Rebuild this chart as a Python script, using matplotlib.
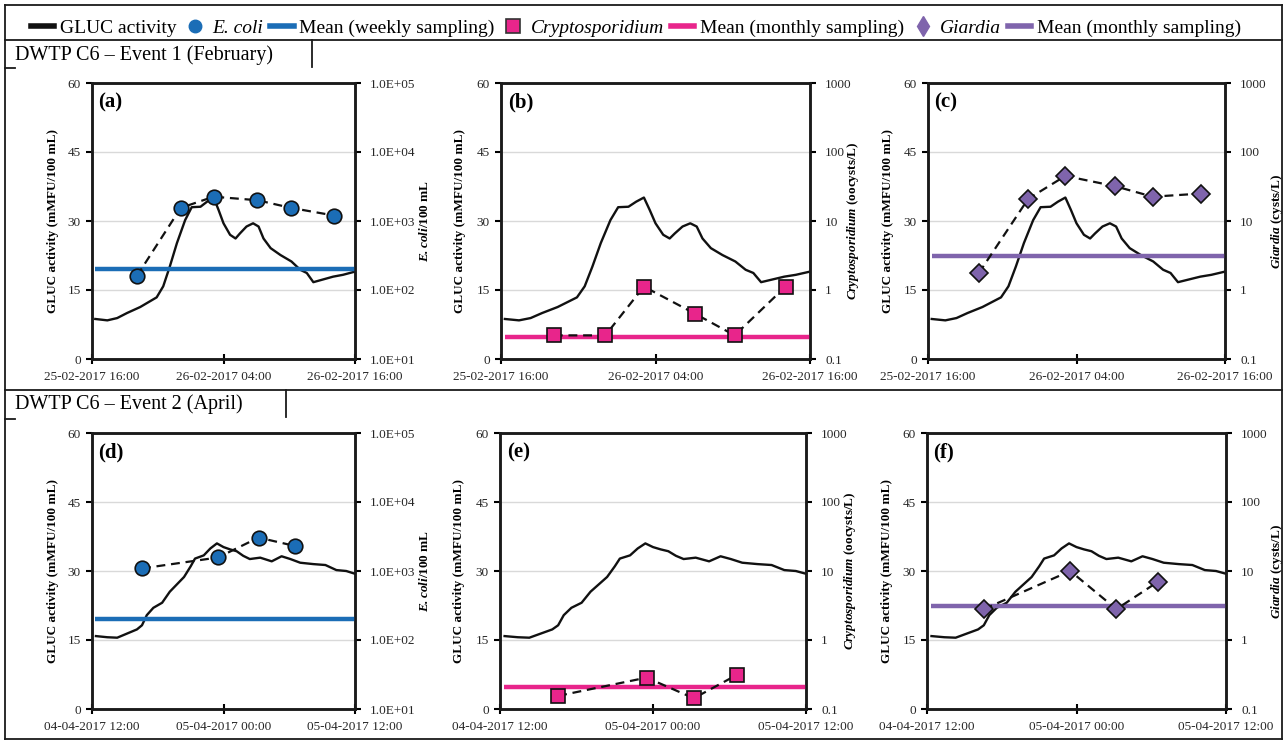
import matplotlib
matplotlib.use('Agg')
import matplotlib.pyplot as plt
from matplotlib.lines import Line2D
from matplotlib.ticker import FixedLocator, NullLocator

plt.rcParams['font.family'] = ['Liberation Serif', 'DejaVu Serif']
plt.rcParams['mathtext.fontset'] = 'custom'
plt.rcParams['mathtext.rm'] = 'Liberation Serif:bold'
plt.rcParams['mathtext.it'] = 'Liberation Serif:italic'
plt.rcParams['mathtext.sf'] = 'Liberation Serif:bold:italic'

# ---------------- data ----------------
ev1_xticklabels = ["25-02-2017 16:00", "26-02-2017 04:00", "26-02-2017 16:00"]
ev2_xticklabels = ["04-04-2017 12:00", "05-04-2017 00:00", "05-04-2017 12:00"]

# GLUC activity (mMFU/100 mL), hours since start of x-axis
ev1_hours = [0.3, 1.4, 2.3, 3.2, 4.4, 5.9, 6.5, 7.1, 7.75, 8.5, 9.1, 9.9, 10.5, 11.1,
             11.55, 12.0, 12.6, 13.1, 13.5, 14.1, 14.7, 15.2, 15.65, 16.3, 17.2, 18.2,
             19.0, 19.6, 20.2, 20.8, 22.0, 22.9, 24.0]
ev1_gluc = [8.7, 8.4, 8.9, 10.0, 11.3, 13.4, 15.8, 20.1, 25.2, 30.2, 33.0, 33.1, 34.2, 35.1,
            32.4, 29.5, 27.0, 26.2, 27.3, 28.8, 29.5, 28.8, 26.2, 24.1, 22.6, 21.2,
            19.4, 18.7, 16.7, 17.1, 17.9, 18.3, 19.0]

ev2_hours = [0.36, 1.4, 2.3, 3.2, 4.1, 4.56, 5.0, 5.6, 6.4, 7.1, 7.75, 8.4, 9.0, 9.4, 10.2,
             10.8, 11.4, 12.0, 12.6, 13.2, 13.8, 14.4, 15.35, 16.4, 17.3, 18.1, 19.0, 20.2,
             21.3, 22.3, 23.2, 24.0]
ev2_gluc = [15.85, 15.6, 15.5, 16.4, 17.3, 18.2, 20.4, 22.0, 23.1, 25.5, 27.1, 28.7, 31.0,
            32.7, 33.4, 34.9, 36.0, 35.2, 34.7, 34.3, 33.3, 32.6, 32.9, 32.1, 33.2, 32.6,
            31.8, 31.5, 31.3, 30.2, 30.0, 29.4]

# grab samples
ev1_sample_hours = [4.1, 8.1, 11.1, 15.1, 18.15, 22.1]
ev1_ecoli = [160, 1550, 2250, 2000, 1550, 1200]          # E. coli /100 mL
ev1_crypto = [0.22, 0.22, 1.12, 0.45, 0.22, 1.12]       # oocysts/L
ev1_giardia = [1.75, 21, 45, 32, 22.5, 25]              # cysts/L

ev2_sample_hours = [4.56, 11.5, 15.2, 18.55]
ev2_ecoli = [1090, 1570, 3050, 2300]
ev2_crypto = [0.155, 0.285, 0.143, 0.31]
ev2_giardia = [2.8, 10, 2.8, 7]

# means of routine sampling
ecoli_mean = 200
crypto_mean = 0.21
giardia_mean = 3.15
mean_span = [0.3, 24]

# ---------------- style ----------------
BLUE = '#1B6DB6'
PINK = '#E8258B'
PURPLE = '#7F64AC'
W, H = 1285, 741

fig = plt.figure(figsize=(W / 100, H / 100), dpi=100)


def fx(x):
    return x / W


def fy(y):
    return 1 - y / H


def add_line(x0, y0, x1, y1, lw=1.3):
    fig.add_artist(Line2D([fx(x0), fx(x1)], [fy(y0), fy(y1)], color='#1a1a1a', lw=lw,
                          transform=fig.transFigure))


# frame and separators
add_line(5, 5, 1282, 5)
add_line(5, 739, 1282, 739)
add_line(5, 5, 5, 739)
add_line(1282, 5, 1282, 739)
add_line(5, 40, 1282, 40)
add_line(5, 390, 1282, 390)
add_line(312, 40, 312, 67)
add_line(5, 68, 15, 68)
add_line(286, 390, 286, 417)
add_line(5, 419, 15, 419)

fig.text(fx(15), fy(55), "DWTP C6 \u2013 Event 1 (February)", fontsize=14.5, va='center', ha='left')
fig.text(fx(15), fy(404), "DWTP C6 \u2013 Event 2 (April)", fontsize=14.5, va='center', ha='left')

kinds = {
    'ecoli': dict(color=BLUE, marker='o', ms=10.5, ylim=(10, 1e5),
                  ticks=[10, 100, 1000, 1e4, 1e5],
                  labels=["1.0E+01", "1.0E+02", "1.0E+03", "1.0E+04", "1.0E+05"],
                  ylabel=r"$\mathsf{E{.}coli}$/100 mL", mean=ecoli_mean),
    'crypto': dict(color=PINK, marker='s', ms=9.8, ylim=(0.1, 1000),
                   ticks=[0.1, 1, 10, 100, 1000], labels=["0.1", "1", "10", "100", "1000"],
                   ylabel=r"$\mathsf{Cryptosporidium}$ (oocysts/L)", mean=crypto_mean),
    'giardia': dict(color=PURPLE, marker='D', ms=9.0, ylim=(0.1, 1000),
                    ticks=[0.1, 1, 10, 100, 1000], labels=["0.1", "1", "10", "100", "1000"],
                    ylabel=r"$\mathsf{Giardia}$ (cysts/L)", mean=giardia_mean),
}


def panel(left, right, top, bottom, hours, gluc, shours, svals, kind, letter, xlabels,
          ylab_off, rlab_off):
    k = kinds[kind]
    ax = fig.add_axes([fx(left), fy(bottom), (right - left) / W, (bottom - top) / H])
    ax.set_xlim(0, 24)
    ax.set_ylim(0, 60)
    ax.set_yticks([0, 15, 30, 45, 60])
    ax.set_xticks([0, 12, 24])
    ax.set_xticklabels(xlabels)
    ax.grid(axis='y', color='#d9d9d9', lw=1.0)
    ax.set_axisbelow(True)
    ax.tick_params(axis='y', direction='out', length=4, width=1.5, labelsize=9.5, pad=4,
                   labelcolor='#262626')
    ax.tick_params(axis='x', direction='inout', length=7, width=1.5, labelsize=9.5, pad=5,
                   labelcolor='#262626')
    for s in ax.spines.values():
        s.set_linewidth(1.8)
        s.set_color('#1a1a1a')
    ax.plot(hours, gluc, color='#111111', lw=1.7, zorder=3)
    ax.text(0.022, 0.93, letter, transform=ax.transAxes, fontsize=15, fontweight='bold',
            ha='left', va='center')
    w = right - left
    ax.text(-ylab_off / w, 0.5, "GLUC activity (mMFU/100 mL)", transform=ax.transAxes,
            rotation=90, ha='center', va='center', fontsize=9.5, fontweight='bold')

    ax2 = ax.twinx()
    ax2.set_yscale('log')
    ax2.set_ylim(*k['ylim'])
    ax2.yaxis.set_major_locator(FixedLocator(k['ticks']))
    ax2.set_yticklabels(k['labels'])
    ax2.yaxis.set_minor_locator(NullLocator())
    ax2.tick_params(axis='y', direction='out', length=4, width=1.5, labelsize=9.5, pad=7,
                    labelcolor='#262626')
    for s in ax2.spines.values():
        s.set_linewidth(1.8)
        s.set_color('#1a1a1a')
    ax2.plot(mean_span, [k['mean'], k['mean']], color=k['color'], lw=3.2, zorder=2,
             solid_capstyle='butt')
    ax2.plot(shours, svals, color='#111111', lw=1.6, linestyle=(0, (4, 2.6)), zorder=3)
    ax2.plot(shours, svals, linestyle='none', marker=k['marker'], ms=k['ms'],
             mfc=k['color'], mec='#111111', mew=1.2, zorder=4)
    ax2.text(1 + rlab_off / w, 0.5, k['ylabel'], transform=ax.transAxes, rotation=90,
             ha='center', va='center', fontsize=9.5, fontweight='bold')
    return ax, ax2


panel(92, 355, 83, 359, ev1_hours, ev1_gluc, ev1_sample_hours, ev1_ecoli, 'ecoli', '(a)',
      ev1_xticklabels, 39, 70)
panel(501, 810, 83, 359, ev1_hours, ev1_gluc, ev1_sample_hours, ev1_crypto, 'crypto', '(b)',
      ev1_xticklabels, 41, 43)
panel(928, 1225, 83, 359, ev1_hours, ev1_gluc, ev1_sample_hours, ev1_giardia, 'giardia', '(c)',
      ev1_xticklabels, 40, 52)
panel(92, 355, 433, 709, ev2_hours, ev2_gluc, ev2_sample_hours, ev2_ecoli, 'ecoli', '(d)',
      ev2_xticklabels, 39, 70)
panel(500, 806, 433, 709, ev2_hours, ev2_gluc, ev2_sample_hours, ev2_crypto, 'crypto', '(e)',
      ev2_xticklabels, 41, 44)
panel(927, 1226, 433, 709, ev2_hours, ev2_gluc, ev2_sample_hours, ev2_giardia, 'giardia', '(f)',
      ev2_xticklabels, 40, 51)

# legend
handles = [
    Line2D([], [], color='#111111', lw=4),
    Line2D([], [], color=BLUE, marker='o', linestyle='none', ms=9),
    Line2D([], [], color=BLUE, lw=4),
    Line2D([], [], color=PINK, marker='s', linestyle='none', ms=10, mec='#333333', mew=1.2),
    Line2D([], [], color=PINK, lw=4),
    Line2D([], [], color=PURPLE, marker='d', linestyle='none', ms=10),
    Line2D([], [], color=PURPLE, lw=4),
]
labels = ["GLUC activity", "E. coli", "Mean (weekly sampling)", "Cryptosporidium",
          "Mean (monthly sampling)", "Giardia", "Mean (monthly sampling)"]
leg = fig.legend(handles, labels, loc='center', bbox_to_anchor=(fx(636), fy(28)), ncol=7,
                 fontsize=14, frameon=False, handlelength=1.2, handletextpad=0.3,
                 columnspacing=0.35, borderpad=0, borderaxespad=0)
for i in (1, 3, 5):
    leg.get_texts()[i].set_fontstyle('italic')

fig.savefig('out.png', dpi=100)
